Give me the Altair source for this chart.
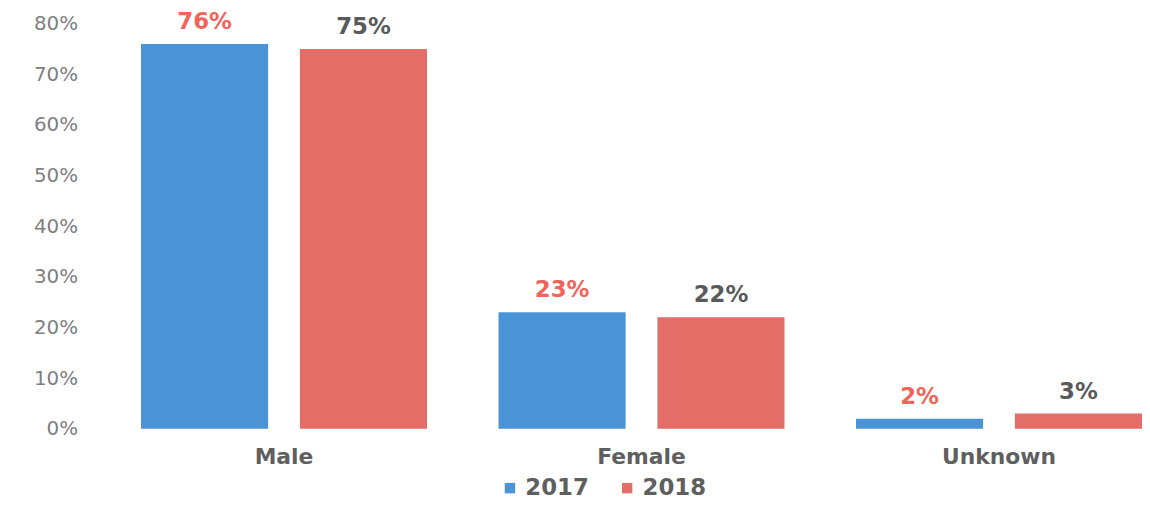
import altair as alt
import pandas as pd

categories = ["Male", "Female", "Unknown"]
years = ["2017", "2018"]
values_2017 = [0.76, 0.23, 0.02]
values_2018 = [0.75, 0.22, 0.03]
labels_2017 = ["76%", "23%", "2%"]
labels_2018 = ["75%", "22%", "3%"]

rows = []
for i, c in enumerate(categories):
    rows.append({"cat": c, "year": "2017", "value": values_2017[i], "label": labels_2017[i]})
    rows.append({"cat": c, "year": "2018", "value": values_2018[i], "label": labels_2018[i]})
df = pd.DataFrame(rows)

FONT = "DejaVu Sans"

x = alt.X("cat:N", sort=categories, title=None,
          scale=alt.Scale(paddingInner=0.2, paddingOuter=0.0694, align=1),
          axis=alt.Axis(labelAngle=0, labelFont=FONT, labelFontSize=22, labelFontWeight="bold",
                        labelColor="#5f5f5f", domain=False, ticks=False, labelPadding=18))
xo = alt.XOffset("year:N", sort=years, scale=alt.Scale(paddingInner=0.2, paddingOuter=0))
y = alt.Y("value:Q", title=None,
          scale=alt.Scale(domain=[0, 0.8]),
          axis=alt.Axis(format=".0%", values=[0, .1, .2, .3, .4, .5, .6, .7, .8],
                        labelFont=FONT, labelFontSize=20, labelColor="#808080",
                        domain=False, ticks=False, grid=False, labelPadding=14))

bars = alt.Chart(df).mark_bar().encode(
    x=x, xOffset=xo, y=y,
    color=alt.Color("year:N", sort=years,
                    scale=alt.Scale(domain=years, range=["#4a93d6", "#e36d67"]),
                    legend=alt.Legend(title=None, orient="none", direction="horizontal",
                                      legendX=410, legendY=456, symbolType="square",
                                      symbolSize=110, labelFont=FONT, labelFontSize=23,
                                      labelFontWeight="bold", labelColor="#5f5f5f",
                                      columnPadding=26, symbolStrokeWidth=0))
)

text = alt.Chart(df).mark_text(baseline="bottom", dy=-10, font=FONT, fontSize=23,
                               fontWeight="bold").encode(
    x=x, xOffset=xo, y=y,
    text="label:N",
    color=alt.Color("year:N", sort=years,
                    scale=alt.Scale(domain=years, range=["#f0645a", "#5a5a5a"]),
                    legend=None)
)

chart = alt.layer(bars, text).resolve_scale(color="independent").properties(
    width=1058, height=408,
    autosize=alt.AutoSizeParams(type="none"),
    padding={"left": 84, "top": 14, "right": 0, "bottom": 76},
).configure_view(stroke=None)

chart.save("out.html", embed_options={"renderer": "svg", "actions": False})
